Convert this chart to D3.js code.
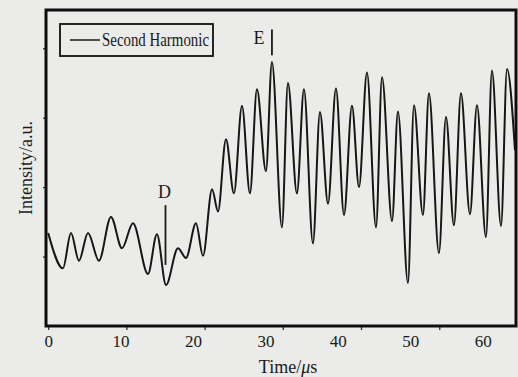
<!DOCTYPE html>
<html>
<head>
<meta charset="utf-8">
<script src="https://cdn.jsdelivr.net/npm/d3@7"></script>
<style>
  html, body { margin: 0; padding: 0; background: #ebebe9; }
  svg { display: block; }
  text { font-family: "Liberation Serif", "DejaVu Serif", serif; fill: #1a1a1a; }
</style>
</head>
<body>
<svg id="chart" width="518" height="377"></svg>
<script>
// Data (peaks and troughs of the trace)
const timeUs = [0, 2.04, 3.15, 4.25, 5.50, 7.01, 8.67, 10.19, 11.71, 13.78, 15.02, 16.27, 17.92, 19.03,
  20.41, 21.38, 22.63, 23.45, 24.55, 25.65, 26.76, 27.86, 28.83, 30.07, 30.90, 32.28, 33.11, 34.35,
  35.32, 36.56, 37.53, 38.64, 39.74, 40.85, 41.95, 42.92, 44.02, 45.27, 46.10, 47.48, 48.30, 49.68,
  50.51, 51.75, 52.58, 53.96, 54.93, 56.03, 57.00, 58.24, 59.21, 60.45, 61.28, 62.53, 63.36, 64.46];
const intensity = [1.34, 0.83, 1.34, 0.94, 1.34, 0.94, 1.57, 1.12, 1.48, 0.75, 1.32, 0.59, 1.12, 0.98,
  1.48, 1.01, 1.97, 1.65, 2.69, 1.91, 3.17, 1.91, 3.41, 2.23, 3.80, 1.42, 3.50, 1.91,
  3.41, 1.19, 3.08, 1.76, 3.42, 1.60, 3.17, 2.00, 3.65, 1.42, 3.58, 1.51, 3.09, 0.62,
  3.18, 1.60, 3.35, 1.05, 3.01, 1.45, 3.35, 1.61, 3.18, 1.28, 3.68, 1.44, 3.70, 2.53];

const xTickLabels = [0, 10, 20, 30, 40, 50, 60];
const xTickMarks = [0, 10.8, 21.6, 32.4, 43.2, 54.0];
const yTickMarks = [1, 2, 3, 4];

const markers = [
  { name: 'D', t: 16.2, y0: 0.88, y1: 1.74 },
  { name: 'E', t: 30.9, y0: 3.90, y1: 4.27 }
];

const seriesName = 'Second Harmonic';
const xTitle = 'Time/';
const yTitle = 'Intensity/a.u.';

const svg = d3.select('#chart');
const plotLeft = 46, plotRight = 516, plotTop = 10, plotBottom = 326;

const x = d3.scaleLinear().domain([-0.3, 64.6]).range([plotLeft, plotRight]);
const y = d3.scaleLinear().domain([0, 4.55]).range([plotBottom, plotTop]);

// trace
const points = timeUs.map((t, i) => [t, intensity[i]]);
const line = d3.line()
  .x(d => x(d[0]))
  .y(d => y(d[1]))
  .curve(d3.curveMonotoneX);

svg.append('path')
  .datum(points)
  .attr('d', line)
  .attr('fill', 'none')
  .attr('stroke', '#161616')
  .attr('stroke-width', 2)
  .attr('stroke-linejoin', 'round');

// tick marks (outward)
svg.append('g')
  .attr('transform', `translate(0,${plotBottom})`)
  .call(d3.axisBottom(x).tickValues(xTickMarks).tickSize(4).tickFormat(''))
  .call(g => g.select('.domain').remove())
  .call(g => g.selectAll('line').attr('stroke', '#333').attr('stroke-width', 1.3));

svg.append('g')
  .attr('transform', `translate(${plotLeft},0)`)
  .call(d3.axisLeft(y).tickValues(yTickMarks).tickSize(3).tickFormat(''))
  .call(g => g.select('.domain').remove())
  .call(g => g.selectAll('line').attr('stroke', '#333').attr('stroke-width', 1.3));

// tick labels
svg.append('g')
  .attr('transform', `translate(0,${plotBottom})`)
  .call(d3.axisBottom(x).tickValues(xTickLabels).tickSize(0).tickPadding(9))
  .call(g => g.select('.domain').remove())
  .call(g => g.selectAll('text')
    .attr('font-family', '"Liberation Serif", serif')
    .attr('font-size', 17)
    .attr('fill', '#1a1a1a'));

// frame
svg.append('rect')
  .attr('x', plotLeft).attr('y', plotTop)
  .attr('width', plotRight - plotLeft).attr('height', plotBottom - plotTop)
  .attr('fill', 'none')
  .attr('stroke', '#0e0e0e')
  .attr('stroke-width', 3);

// legend
const legend = svg.append('g');
legend.append('rect')
  .attr('x', 60).attr('y', 24).attr('width', 153).attr('height', 32)
  .attr('fill', 'none').attr('stroke', '#111').attr('stroke-width', 1.8);
legend.append('line')
  .attr('x1', 70).attr('x2', 100).attr('y1', 40).attr('y2', 40)
  .attr('stroke', '#1a1a1a').attr('stroke-width', 1.5);
legend.append('text')
  .attr('x', 102).attr('y', 45.5)
  .attr('font-size', 18)
  .attr('textLength', 107)
  .attr('lengthAdjust', 'spacingAndGlyphs')
  .text(seriesName);

// markers D and E
markers.forEach(m => {
  svg.append('line')
    .attr('x1', x(m.t)).attr('x2', x(m.t))
    .attr('y1', y(m.y0)).attr('y2', y(m.y1))
    .attr('stroke', '#1a1a1a').attr('stroke-width', 1.8);
});
svg.append('text')
  .attr('x', x(markers[0].t) - 1).attr('y', 198)
  .attr('text-anchor', 'middle')
  .attr('font-size', 18)
  .text(markers[0].name);
svg.append('text')
  .attr('x', x(markers[1].t) - 13).attr('y', 43.5)
  .attr('text-anchor', 'middle')
  .attr('font-size', 18)
  .text(markers[1].name);

// axis titles
const xt = svg.append('text')
  .attr('x', 288).attr('y', 373)
  .attr('text-anchor', 'middle')
  .attr('font-size', 18);
xt.append('tspan').text(xTitle);
xt.append('tspan').attr('font-style', 'italic').text('\u03bc');
xt.append('tspan').text('s');

svg.append('text')
  .attr('transform', 'translate(32,168) rotate(-90)')
  .attr('text-anchor', 'middle')
  .attr('font-size', 18)
  .text(yTitle);
</script>
</body>
</html>
